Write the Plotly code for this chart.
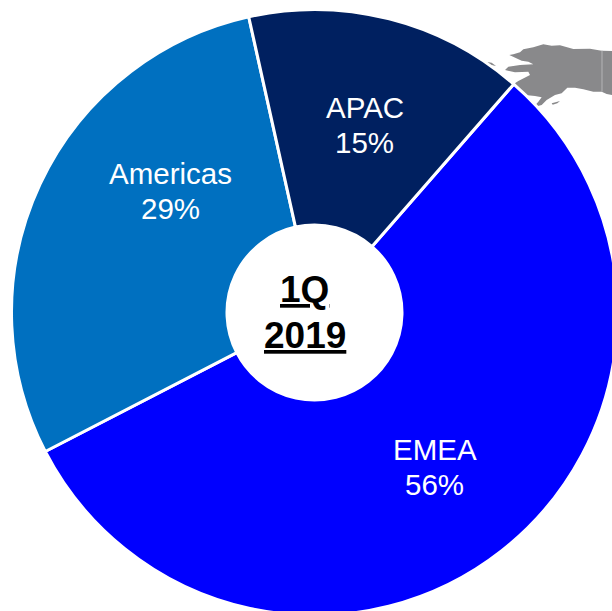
import plotly.graph_objects as go

# Data
categories = ["EMEA", "Americas", "APAC"]
shares = [56.0, 29.1, 14.9]
shown_labels = ["56%", "29%", "15%"]
colors = ["#0000FF", "#0070C0", "#002060"]
center_lines = ["1Q", "2019"]

# Layout constants (pixel canvas slightly larger than window so the pie bleeds off the right edge)
W = H = 640
CX, CY, R, HOLE_R = 314.5, 312.5, 303, 87.5
label_pos = {"EMEA": (434.5, 449, 484), "Americas": (170, 173, 208), "APAC": (364.5, 107.5, 142.5)}
center_pos = (304.5, 289, 335)
FONT = "Liberation Sans, Arial, sans-serif"

# Decorative map fragment behind the pie (Alaska outline, traced in the picture)
alaska_x = [88,100,120,130,160,190,215,240,280,330,365,396,396,380,365,340,310,285,262,245,225,200,185,160,175,185,165,135,100,115,150,145,105,75,85,120,160,145,125,110,88]
alaska_y = [105,103,97,88,82,73,77,76,87,86,92,93,225,222,215,215,208,203,203,220,225,240,255,262,245,232,228,225,193,183,165,155,157,150,140,135,133,125,122,115,105]
island_x = [20,35,48,30,20]
island_y = [126,128,138,134,126]
island2_x = [215,240,232,218,215]
island2_y = [250,243,250,254,250]
border_x = [366,366]
border_y = [92,215]

def px(v): return [480 + a / 3 for a in v]
def py(v): return [20 + a / 3 for a in v]

fig = go.Figure()
for xs, ys in [(alaska_x, alaska_y), (island_x, island_y), (island2_x, island2_y)]:
    fig.add_trace(go.Scatter(x=px(xs), y=py(ys), mode="lines", fill="toself",
                             fillcolor="#89898B", line=dict(color="#89898B", width=0),
                             hoverinfo="skip", showlegend=False))
fig.add_trace(go.Scatter(x=px(border_x), y=py(border_y), mode="lines",
                         line=dict(color="#B4B4B6", width=1), hoverinfo="skip", showlegend=False))

fig.add_trace(go.Pie(
    labels=categories, values=shares, sort=False, direction="clockwise", rotation=41.1,
    hole=HOLE_R / R, textinfo="none", hoverinfo="label+percent",
    marker=dict(colors=colors, line=dict(color="white", width=3)),
    domain=dict(x=[(CX - R) / W, (CX + R) / W], y=[1 - (CY + R) / H, 1 - (CY - R) / H]),
    showlegend=False,
))

annotations = []
for cat, shown in zip(categories, shown_labels):
    x, y1, y2 = label_pos[cat]
    for txt, y in ((cat, y1), (shown, y2)):
        annotations.append(dict(x=x, y=y, xref="x", yref="y", showarrow=False, text=txt,
                                font=dict(family=FONT, size=29.5, color="white")))
for txt, y in zip(center_lines, center_pos[1:]):
    annotations.append(dict(x=center_pos[0], y=y, xref="x", yref="y", showarrow=False,
                            text=f"<b><u>{txt}</u></b>",
                            font=dict(family=FONT, size=37, color="black")))

fig.update_layout(
    width=W, height=H, autosize=False, margin=dict(l=0, r=0, t=0, b=0, pad=0),
    paper_bgcolor="white", plot_bgcolor="white",
    xaxis=dict(range=[0, W], visible=False, fixedrange=True),
    yaxis=dict(range=[H, 0], visible=False, fixedrange=True),
    annotations=annotations,
)
fig.write_html("out.html", config={"displayModeBar": False},
               post_script="document.body.style.margin='0';document.documentElement.style.overflow='hidden';document.body.style.overflow='hidden';")
